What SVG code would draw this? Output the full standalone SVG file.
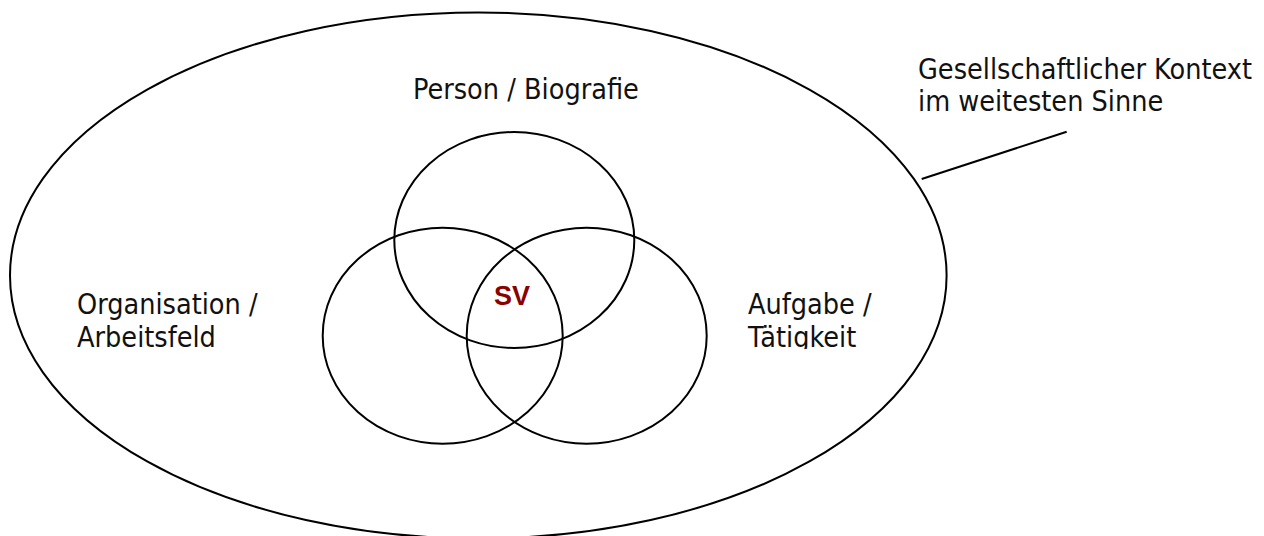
<svg xmlns="http://www.w3.org/2000/svg" width="1264" height="536" viewBox="0 0 1264 536">
  <style>
    .ring { fill: none; stroke: #000; stroke-width: 2; }
    .lbl { font-family: 'DejaVu Sans Condensed', 'Liberation Sans', 'DejaVu Sans', sans-serif; font-size: 28.5px; fill: #111; }
    .core { font-family: 'Liberation Sans', 'DejaVu Sans', sans-serif; font-size: 27px; font-weight: bold; fill: #8b0000; }
  </style>
  <defs>
    <clipPath id="clipTask">
      <rect x="740" y="280" width="160" height="69"/>
    </clipPath>
  </defs>
  <rect width="1264" height="536" fill="#fff"/>

  <!-- outer context -->
  <g id="context">
    <ellipse class="ring" cx="478.3" cy="275.5" rx="468.3" ry="263"/>
    <text class="lbl" x="918" y="78.5">Gesellschaftlicher Kontext</text>
    <text class="lbl" x="918" y="110.5">im weitesten Sinne</text>
  </g>

  <!-- three overlapping fields -->
  <g id="person">
    <ellipse class="ring" cx="514.3" cy="240" rx="120" ry="108"/>
    <text class="lbl" x="413" y="99.3">Person / Biografie</text>
  </g>
  <g id="organisation">
    <ellipse class="ring" cx="442.7" cy="335.7" rx="120" ry="108"/>
    <text class="lbl" x="77" y="314.3">Organisation /</text>
    <text class="lbl" x="77" y="346.7">Arbeitsfeld</text>
  </g>
  <g id="aufgabe">
    <ellipse class="ring" cx="586.7" cy="335.7" rx="120" ry="108"/>
    <g clip-path="url(#clipTask)">
      <text class="lbl" x="748" y="314.3">Aufgabe /</text>
      <text class="lbl" x="748" y="346.7">Tätigkeit</text>
    </g>
  </g>
  <g id="sv">
    <text class="core" x="494" y="305">SV</text>
  </g>

  <!-- leader from label to outer ellipse -->
  <g id="connectors">
    <line class="ring" x1="921.7" y1="179" x2="1066.7" y2="131.7"/>
  </g>
</svg>
